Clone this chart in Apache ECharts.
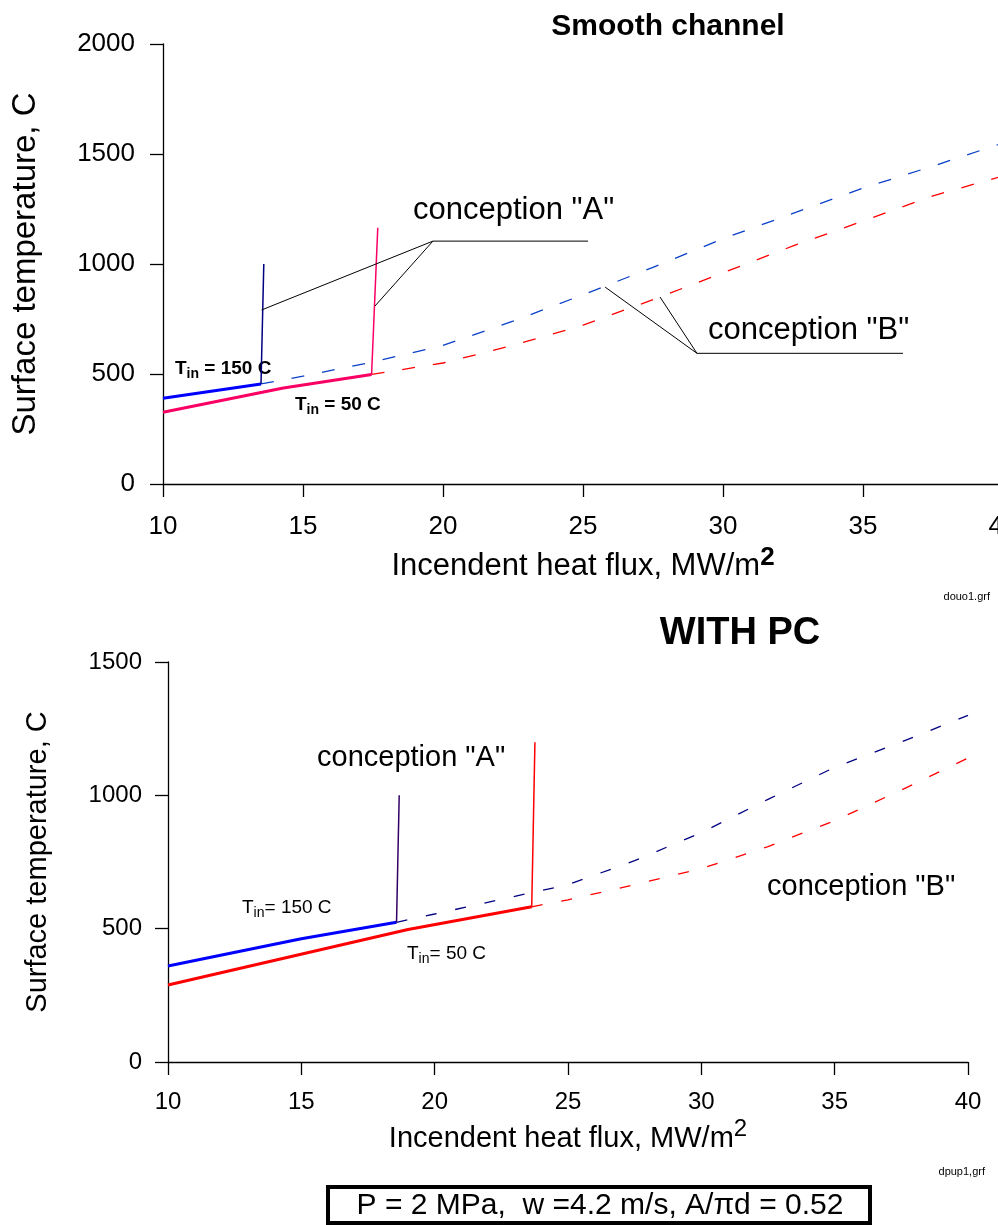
<!DOCTYPE html>
<html lang="en">
  <head>
    <meta charset="UTF-8" />
    <title>surface temperature vs heat flux</title>
    <style>
      body, html {
        margin: 0;
        width: 100%;
        height: 100%;
        background: #fff;
      }
    </style>
  </head>
  <body>
    <div id="main" style="width:998px;height:1225px;"></div>

    <script src="https://cdn.jsdelivr.net/npm/echarts@6/dist/echarts.min.js"></script>
    <script>
      const FONT = '"Liberation Sans", Arial, sans-serif';

      // top panel: smooth channel  [heat flux, temperature]
      const topBlueSolid = [[10, 390], [13.5, 455]];
      const topBlueRise = [[13.5, 455], [13.6, 1000]];
      const topBlueDash = [[13.5, 455], [15, 490], [17.5, 555], [20, 630], [22.5, 740], [25, 860], [27.5, 985], [30, 1115], [32.5, 1230], [35, 1345], [37.5, 1445], [40, 1550]];
      const topRedSolid = [[10, 326], [14.3, 436], [17.45, 498]];
      const topRedRise = [[17.45, 498], [17.67, 1165]];
      const topRedDash = [[17.45, 498], [20, 550], [22.5, 630], [25, 722], [27.5, 838], [30, 960], [32.5, 1082], [35, 1195], [37.5, 1310], [40, 1400]];
      const leaderA = [[[13.52, 791], [19.64, 1104], [25.18, 1104]], [[17.57, 809], [19.64, 1104]]];
      const leaderB = [[[25.79, 895], [29.07, 594], [36.43, 594]], [[27.75, 850], [29.07, 594]]];

      // bottom panel: with PC
      const botBlueSolid = [[10, 360], [15, 462], [18.57, 524]];
      const botBlueRise = [[18.57, 524], [18.67, 1000]];
      const botBlueDash = [[18.57, 524], [20, 555], [22.5, 610], [25, 665], [27.5, 755], [30, 860], [32.5, 985], [35, 1105], [37.5, 1200], [40, 1300]];
      const botRedSolid = [[10, 289], [19, 497], [23.64, 582]];
      const botRedRise = [[23.64, 582], [23.76, 1199]];
      const botRedDash = [[23.64, 582], [25, 608], [27.5, 665], [30, 725], [32.5, 808], [35, 905], [37.5, 1020], [40, 1140]];

      const xRange = [10, 40];
      const topYRange = [0, 2000];
      const botYRange = [0, 1500];

      function line(data, color, width, grid, type) {
        return {
          type: 'line',
          xAxisIndex: grid,
          yAxisIndex: grid,
          data: data,
          symbol: 'none',
          silent: true,
          lineStyle: { color: color, width: width, type: type || 'solid' },
        };
      }

      function xAxis(grid, labelSize, margin, name, nameGap, supBold) {
        return {
          gridIndex: grid,
          type: 'value',
          min: xRange[0],
          max: xRange[1],
          interval: 5,
          axisLine: { lineStyle: { color: '#000', width: 1.3 } },
          axisTick: { length: 13, lineStyle: { color: '#000', width: 1.3 } },
          splitLine: { show: false },
          axisLabel: { fontSize: labelSize, color: '#000', margin: margin, fontFamily: FONT, formatter: v => String(v) },
          name: '{t|' + name + '}{s|2}',
          nameLocation: 'middle',
          nameGap: nameGap,
          nameTextStyle: {
            rich: {
              t: { fontSize: labelSize + 5, color: '#000', fontFamily: FONT, lineHeight: 34, padding: [10, 0, 0, 0] },
              s: { fontSize: labelSize, color: '#000', fontFamily: FONT, fontWeight: supBold ? 'bold' : 'normal', lineHeight: 26, verticalAlign: 'top' },
            },
          },
        };
      }

      function yAxis(grid, range, labelSize, margin, nameSize, nameGap) {
        return {
          gridIndex: grid,
          type: 'value',
          min: range[0],
          max: range[1],
          interval: 500,
          axisLine: { show: true, lineStyle: { color: '#000', width: 1.3 } },
          axisTick: { show: true, length: 13, lineStyle: { color: '#000', width: 1.3 } },
          splitLine: { show: false },
          axisLabel: { fontSize: labelSize, color: '#000', margin: margin, fontFamily: FONT, formatter: v => String(v) },
          name: 'Surface temperature, C',
          nameLocation: 'middle',
          nameRotate: 90,
          nameGap: nameGap,
          nameTextStyle: { fontSize: nameSize, color: '#000', fontFamily: FONT },
        };
      }

      function text(x, y, str, size, extra) {
        return {
          type: 'text',
          x: x,
          y: y,
          silent: true,
          style: Object.assign({
            text: str,
            font: size + 'px ' + FONT,
            fill: '#000',
            textAlign: 'left',
            textVerticalAlign: 'middle',
            align: 'left',
            verticalAlign: 'middle',
          }, extra || {}),
        };
      }

      function tin(x, y, rest, size, bold) {
        const w = bold ? 'bold' : 'normal';
        return {
          type: 'text',
          x: x,
          y: y,
          silent: true,
          style: {
            text: '{b|T}{s|in}{b|' + rest + '}',
            verticalAlign: 'middle',
            textVerticalAlign: 'middle',
            rich: {
              b: { fontSize: size, fontWeight: w, fontFamily: FONT, fill: '#000', color: '#000', lineHeight: 22, padding: [0, 0, 7, 0], verticalAlign: 'top' },
              s: { fontSize: size - 5, fontWeight: w, fontFamily: FONT, fill: '#000', color: '#000', lineHeight: 16, verticalAlign: 'bottom' },
            },
          },
        };
      }

      const chart = echarts.init(document.getElementById('main'));

      const series = [
        line(topBlueDash, '#0a3fc8', 1.3, 0, [13, 18]),
        line(topRedDash, '#ff0000', 1.3, 0, [13, 18]),
        line(topBlueSolid, '#0000ff', 3, 0),
        line(topRedSolid, '#fa0064', 3, 0),
        line(topBlueRise, '#000080', 1.5, 0),
        line(topRedRise, '#fa0064', 1.5, 0),
        line(botBlueDash, '#000080', 1.3, 1, [11, 19]),
        line(botRedDash, '#ff0000', 1.3, 1, [11, 19]),
        line(botBlueSolid, '#0000ff', 3, 1),
        line(botRedSolid, '#ff0000', 3, 1),
        line(botBlueRise, '#330066', 1.5, 1),
        line(botRedRise, '#ff0000', 1.5, 1),
      ];
      leaderA.concat(leaderB).forEach(seg => series.push(line(seg, '#000', 1, 0)));

      const option = {
        animation: false,
        backgroundColor: '#fff',
        grid: [
          { left: 163, top: 44, width: 840, height: 440, outerBoundsMode: 'none', containLabel: false },
          { left: 168, top: 662, width: 800, height: 400, outerBoundsMode: 'none', containLabel: false },
        ],
        xAxis: [
          xAxis(0, 26, 30, 'Incendent heat flux, MW/m', 58, true),
          xAxis(1, 24, 28, 'Incendent heat flux, MW/m', 55, false),
        ],
        yAxis: [
          yAxis(0, topYRange, 26, 28, 33, 121),
          yAxis(1, botYRange, 24, 26, 29, 116),
        ],
        series: series,
        graphic: [
          text(668, 27, 'Smooth channel', 30, { font: 'bold 30px ' + FONT, textAlign: 'center', align: 'center' }),
          text(413, 210, 'conception "A"', 31),
          text(708, 330, 'conception "B"', 31),
          tin(175, 370, ' = 150 C', 19, true),
          tin(295, 406, ' = 50 C', 19, true),
          text(990, 597, 'douo1.grf', 11, { textAlign: 'right', align: 'right' }),

          text(740, 634, 'WITH PC', 38, { font: 'bold 38px ' + FONT, textAlign: 'center', align: 'center' }),
          text(317, 758, 'conception "A"', 29),
          text(767, 887, 'conception "B"', 29),
          tin(242, 909, '= 150 C', 19, false),
          tin(407, 955, '= 50 C', 19, false),
          text(985, 1172, 'dpup1,grf', 11, { textAlign: 'right', align: 'right' }),

          {
            type: 'rect',
            silent: true,
            shape: { x: 328, y: 1187, width: 542, height: 36 },
            style: { fill: '#fff', stroke: '#000', lineWidth: 4 },
          },
          text(600, 1206, 'P = 2 MPa,  w =4.2 m/s, A/\u03c0d = 0.52', 30, { textAlign: 'center', align: 'center' }),
        ],
      };

      chart.setOption(option);
    </script>
  </body>
</html>
